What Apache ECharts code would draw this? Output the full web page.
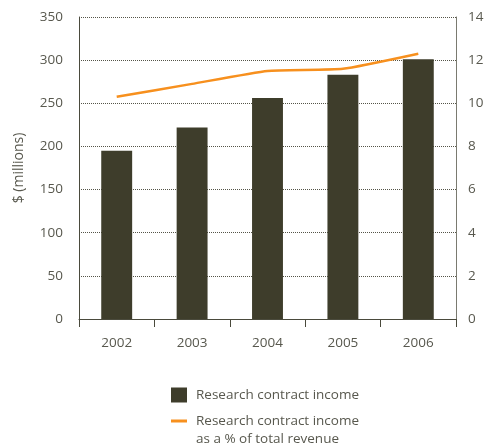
<!DOCTYPE html>
<html>
<head>
<meta charset="utf-8">
<script src="https://cdn.jsdelivr.net/npm/echarts@6/dist/echarts.min.js"></script>
<style>
  html, body { margin: 0; padding: 0; background: #ffffff; }
  #chart { width: 501px; height: 445px; }
</style>
</head>
<body>
<div id="chart"></div>
<script>
// Research contract income by year
var years = ['2002', '2003', '2004', '2005', '2006'];
var incomeMillions = [195, 222, 256, 283, 301];          // $ millions
var pctOfRevenue = [10.3, 10.9, 11.5, 11.6, 12.3];       // % of total revenue

var barName = 'Research contract income';
var lineName = 'Research contract income\nas a % of total revenue';

var textColor = '#58584e';
var fontFamily = '"Open Sans", "DejaVu Sans", sans-serif';
var legendText = { fontFamily: fontFamily, fontSize: 13.5, color: textColor, lineHeight: 18, padding: [0, 0, 0, 4] };

var chart = echarts.init(document.getElementById('chart'), null, { renderer: 'canvas' });

chart.setOption({
  animation: false,
  backgroundColor: '#ffffff',
  textStyle: { fontFamily: fontFamily, color: textColor },
  grid: { left: 79, right: 45, top: 17, bottom: 126, containLabel: false },
  legend: [
    {
      left: 171,
      top: 386,
      padding: 0,
      itemWidth: 16,
      itemHeight: 15,
      selectedMode: false,
      textStyle: legendText,
      data: [{ name: barName, icon: 'rect' }]
    },
    {
      // a blank leading line keeps the swatch level with the label's first line
      left: 171,
      top: 394,
      padding: 0,
      itemWidth: 16,
      itemHeight: 3,
      selectedMode: false,
      textStyle: legendText,
      formatter: function (name) { return '\n' + name; },
      data: [{ name: lineName, icon: 'rect' }]
    }
  ],
  xAxis: {
    type: 'category',
    data: years,
    boundaryGap: true,
    axisLine: { lineStyle: { color: '#4a4a3c', width: 1 } },
    axisTick: { show: true, length: 8, interval: 0, lineStyle: { color: '#4a4a3c' } },
    axisLabel: { color: textColor, fontSize: 13.5, margin: 17, fontFamily: fontFamily },
    splitLine: { show: false }
  },
  yAxis: [
    {
      type: 'value',
      min: 0,
      max: 350,
      interval: 50,
      position: 'left',
      name: '$ (millions)',
      nameLocation: 'middle',
      nameGap: 53,
      nameTextStyle: { color: textColor, fontSize: 14, fontFamily: fontFamily },
      axisLine: { show: true, lineStyle: { color: '#4a4a3c', width: 1 } },
      axisTick: { show: false },
      axisLabel: { color: textColor, fontSize: 13.5, margin: 16, fontFamily: fontFamily },
      splitLine: { show: true, lineStyle: { color: '#555548', width: 1, type: [1, 1] } }
    },
    {
      type: 'value',
      min: 0,
      max: 14,
      interval: 2,
      position: 'right',
      axisLine: { show: true, lineStyle: { color: '#7a7a70', width: 1 } },
      axisTick: { show: false },
      axisLabel: { color: textColor, fontSize: 13.5, margin: 12, fontFamily: fontFamily },
      splitLine: { show: false }
    }
  ],
  series: [
    {
      name: barName,
      type: 'bar',
      yAxisIndex: 0,
      data: incomeMillions,
      barWidth: '41%',
      itemStyle: { color: '#3e3d2b' }
    },
    {
      name: lineName,
      type: 'line',
      yAxisIndex: 1,
      data: pctOfRevenue,
      symbol: 'none',
      smooth: 0.15,
      lineStyle: { color: '#f7901e', width: 2.5 },
      itemStyle: { color: '#f7901e' }
    }
  ]
});
</script>
</body>
</html>
